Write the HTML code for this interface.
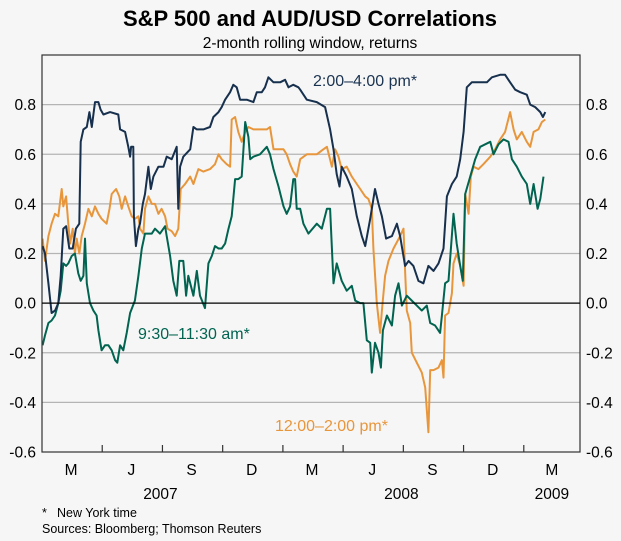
<!DOCTYPE html>
<html><head><meta charset="utf-8">
<style>
html,body{margin:0;padding:0;background:#f6f6f6;}
svg{display:block;font-family:"Liberation Sans",Arial,sans-serif;}
</style></head>
<body>
<svg id="chart" width="621" height="541" viewBox="0 0 621 541">
<rect x="0" y="0" width="621" height="541" fill="#f6f6f6"/>
<text x="310" y="26" text-anchor="middle" font-size="22" font-weight="bold" fill="#000">S&amp;P 500 and AUD/USD Correlations</text>
<text x="310" y="48" text-anchor="middle" font-size="15.5" fill="#000">2-month rolling window, returns</text>
<g id="grid"></g>
<g id="series"></g>
<rect x="42" y="55" width="538" height="397" fill="none" stroke="#333" stroke-width="1.2"/>
<g id="axes"></g>
<text x="313" y="86" font-size="16" fill="#1a3350">2:00–4:00 pm*</text>
<text x="138" y="339" font-size="16" fill="#006450">9:30–11:30 am*</text>
<text x="275" y="431" font-size="16" fill="#e8963c">12:00–2:00 pm*</text>
<text x="42" y="517" font-size="12.5" fill="#000">*</text>
<text x="57" y="517" font-size="12.5" fill="#000">New York time</text>
<text x="42" y="533" font-size="12.5" fill="#000">Sources: Bloomberg; Thomson Reuters</text>
</svg>
<script>
// x values: months since 1 Mar 2007
const navyT=[0.03,0.15,0.32,0.48,0.65,0.81,0.93,1.06,1.2,1.36,1.53,1.69,1.86,1.93,2.06,2.23,2.36,2.48,2.64,2.81,2.92,3.06,3.39,3.8,3.89,4.14,4.3,4.39,4.44,4.55,4.58,4.68,4.8,4.88,5.02,5.13,5.3,5.42,5.55,5.8,6.05,6.21,6.46,6.71,6.79,6.88,7.04,7.38,7.54,7.71,8.04,8.37,8.54,8.79,8.95,9.12,9.37,9.53,9.7,9.87,10.2,10.53,10.7,10.95,11.11,11.28,11.53,11.86,12.11,12.28,12.52,12.77,12.86,13.19,13.69,14.1,14.35,14.52,14.68,14.82,14.93,15.18,15.43,15.68,15.93,16.1,16.35,16.59,16.76,16.93,17.14,17.43,17.68,17.84,18.09,18.26,18.5,18.75,19.0,19.25,19.5,19.75,20.0,20.17,20.42,20.66,20.83,21.0,21.16,21.41,21.83,22.16,22.41,22.82,23.07,23.32,23.57,23.82,24.15,24.32,24.57,24.82,24.95,25.07];
const navyV=[0.23,0.2,0.08,-0.04,-0.03,0,0.11,0.3,0.31,0.22,0.22,0.3,0.32,0.65,0.7,0.71,0.77,0.71,0.81,0.81,0.78,0.76,0.77,0.76,0.7,0.69,0.63,0.59,0.63,0.63,0.35,0.23,0.3,0.32,0.4,0.44,0.55,0.46,0.51,0.55,0.55,0.59,0.58,0.63,0.38,0.55,0.59,0.62,0.71,0.7,0.7,0.71,0.75,0.77,0.79,0.82,0.85,0.88,0.87,0.82,0.82,0.81,0.85,0.85,0.87,0.91,0.89,0.89,0.9,0.87,0.88,0.87,0.86,0.82,0.81,0.79,0.7,0.62,0.52,0.47,0.55,0.51,0.46,0.35,0.27,0.23,0.34,0.46,0.4,0.35,0.26,0.27,0.32,0.27,0.15,0.17,0.15,0.09,0.08,0.15,0.13,0.16,0.22,0.43,0.48,0.51,0.58,0.69,0.87,0.89,0.89,0.89,0.91,0.92,0.92,0.89,0.86,0.85,0.84,0.8,0.79,0.77,0.75,0.77];
const orangeT=[0.03,0.15,0.32,0.48,0.65,0.81,0.98,1.06,1.2,1.31,1.4,1.53,1.64,1.73,1.86,1.98,2.14,2.31,2.48,2.64,2.81,2.97,3.22,3.36,3.47,3.69,3.85,3.97,4.14,4.3,4.47,4.63,4.8,4.88,5.05,5.13,5.3,5.47,5.63,5.8,5.96,6.13,6.25,6.46,6.63,6.79,6.91,7.13,7.38,7.54,7.79,8.04,8.37,8.62,8.79,8.95,9.2,9.37,9.45,9.62,9.78,9.95,10.12,10.28,10.53,10.86,11.2,11.36,11.53,11.78,12.03,12.19,12.36,12.52,12.69,12.86,13.19,13.69,14.02,14.19,14.44,14.6,14.77,14.93,15.18,15.43,15.68,15.85,16.1,16.26,16.43,16.51,16.68,16.84,16.93,17.09,17.26,17.51,17.84,18.01,18.09,18.17,18.34,18.42,18.67,18.92,19.09,19.25,19.34,19.5,19.75,19.92,20.0,20.08,20.25,20.42,20.5,20.66,20.83,21.0,21.08,21.25,21.36,21.5,21.74,21.99,22.33,22.57,22.82,23.07,23.32,23.49,23.65,23.9,24.15,24.32,24.49,24.73,24.9,25.07];
const orangeV=[0.26,0.17,0.27,0.32,0.36,0.35,0.46,0.39,0.43,0.32,0.24,0.3,0.2,0.26,0.2,0.27,0.32,0.38,0.35,0.39,0.36,0.34,0.32,0.38,0.44,0.46,0.43,0.38,0.43,0.39,0.35,0.34,0.35,0.3,0.28,0.38,0.43,0.4,0.4,0.36,0.38,0.35,0.3,0.29,0.27,0.3,0.46,0.48,0.51,0.48,0.54,0.53,0.54,0.56,0.6,0.58,0.56,0.55,0.74,0.75,0.69,0.65,0.69,0.71,0.7,0.7,0.7,0.71,0.62,0.62,0.62,0.6,0.56,0.53,0.51,0.58,0.6,0.6,0.62,0.63,0.55,0.62,0.59,0.54,0.55,0.51,0.48,0.46,0.43,0.42,0.38,0.22,0.0,-0.12,-0.03,0.11,0.17,0.22,0.27,0.3,0.13,-0.03,-0.08,-0.2,-0.24,-0.28,-0.34,-0.52,-0.27,-0.27,-0.26,-0.23,-0.3,-0.05,-0.04,0.04,0.16,0.2,0.15,0.07,0.44,0.36,0.51,0.55,0.54,0.56,0.59,0.62,0.66,0.69,0.77,0.7,0.66,0.69,0.65,0.63,0.69,0.7,0.73,0.74];
const greenT=[0.03,0.15,0.32,0.48,0.65,0.81,0.93,1.06,1.2,1.31,1.48,1.64,1.81,1.93,2.06,2.14,2.23,2.39,2.56,2.72,2.81,2.97,3.14,3.31,3.47,3.64,3.75,3.89,4.05,4.22,4.39,4.63,4.8,4.97,5.13,5.3,5.47,5.63,5.88,6.13,6.21,6.38,6.54,6.71,6.84,7.04,7.18,7.29,7.54,7.71,7.87,8.12,8.29,8.46,8.62,8.79,8.95,9.12,9.29,9.45,9.62,9.78,9.95,10.12,10.28,10.37,10.53,10.86,11.2,11.36,11.53,11.78,12.03,12.19,12.36,12.52,12.61,12.69,12.86,13.02,13.27,13.69,13.94,14.19,14.35,14.52,14.68,14.93,15.18,15.43,15.6,15.85,16.01,16.18,16.35,16.43,16.59,16.76,16.88,16.98,17.18,17.43,17.59,17.76,17.93,18.17,18.42,18.67,18.92,19.17,19.34,19.58,19.83,19.92,20.08,20.25,20.5,20.66,20.83,20.96,21.08,21.33,21.58,21.83,22.08,22.33,22.49,22.74,22.99,23.24,23.41,23.65,23.9,24.15,24.32,24.49,24.69,24.82,24.98];
const greenV=[-0.17,-0.13,-0.08,-0.07,-0.05,0,0.05,0.16,0.15,0.16,0.19,0.2,0.12,0.09,0.11,0.26,0.08,0,-0.03,-0.05,-0.11,-0.19,-0.17,-0.17,-0.19,-0.23,-0.24,-0.17,-0.19,-0.12,-0.04,0.01,0.11,0.22,0.28,0.28,0.28,0.3,0.28,0.31,0.27,0.19,0.09,0.03,0.17,0.17,0.03,0.11,0.03,0.13,0.03,-0.02,0.16,0.19,0.23,0.22,0.22,0.24,0.3,0.35,0.5,0.5,0.51,0.73,0.67,0.58,0.59,0.6,0.63,0.6,0.54,0.47,0.39,0.36,0.39,0.5,0.5,0.38,0.38,0.32,0.28,0.32,0.3,0.38,0.38,0.08,0.16,0.09,0.05,0.07,0.01,0,0,-0.15,-0.16,-0.28,-0.16,-0.2,-0.26,-0.11,-0.05,-0.09,0.03,0.08,-0.01,0.03,0.01,-0.01,-0.03,-0.01,-0.08,-0.09,-0.12,-0.05,0.08,0.09,0.36,0.24,0.15,0.09,0.44,0.51,0.58,0.63,0.64,0.65,0.6,0.64,0.66,0.65,0.58,0.55,0.51,0.48,0.4,0.48,0.38,0.42,0.51];
const yTicks=[0.8,0.6,0.4,0.2,0,-0.2,-0.4,-0.6];
const yTickLabels=["0.8","0.6","0.4","0.2","0.0","-0.2","-0.4","-0.6"];
const qTicks=[3,6,9,12,15,18,21,24];
const monthLabels=["M","J","S","D","M","J","S","D","M"];
const monthLabelPos=[1.45,4.45,7.45,10.45,13.45,16.45,19.45,22.45,25.4];
const yearLabels=["2007","2008","2009"];
const yearLabelPos=[5.9,17.9,25.4];

const L=42,R=580,T=55,B=452,yMax=1.0,yMin=-0.6,tMax=26.8;
const xs=t=>L+t*(R-L)/tMax;
const ys=v=>T+(yMax-v)*(B-T)/(yMax-yMin);
const NS="http://www.w3.org/2000/svg";
const grid=document.getElementById('grid'),axes=document.getElementById('axes'),series=document.getElementById('series');
function mk(tag,attrs,parent){const e=document.createElementNS(NS,tag);for(const k in attrs)e.setAttribute(k,attrs[k]);parent.appendChild(e);return e;}
yTicks.forEach((v,i)=>{
  const y=ys(v);
  if(v!==0&&v!==yMin){const g=mk('line',{x1:L,x2:R,y1:y,y2:y,stroke:'#b4b4b4','stroke-width':1.2},grid);
  
  }
  const a=mk('text',{x:36,y:y+5.5,'text-anchor':'end','font-size':15.5,fill:'#000'},axes);a.textContent=yTickLabels[i];
  
  
  const b=mk('text',{x:586,y:y+5.5,'text-anchor':'start','font-size':15.5,fill:'#000'},axes);b.textContent=yTickLabels[i];
  
  
});
const z=mk('line',{x1:L,x2:R,y1:ys(0),y2:ys(0),stroke:'#000','stroke-width':1.2},axes);


qTicks.forEach(t=>{const tk=mk('line',{x1:xs(t),x2:xs(t),y1:B,y2:B-7,stroke:'#333','stroke-width':1.2},axes);
  
  });
monthLabels.forEach((m,i)=>{const e=mk('text',{x:xs(monthLabelPos[i]),y:475,'text-anchor':'middle','font-size':15.5,fill:'#000'},axes);e.textContent=m;
  
  });
yearLabels.forEach((m,i)=>{const e=mk('text',{x:xs(yearLabelPos[i]),y:499,'text-anchor':'middle','font-size':15.5,fill:'#000'},axes);e.textContent=m;
  
  });
function line(T_,V,color,name){
  const d=T_.map((t,i)=>(i?'L':'M')+xs(t).toFixed(1)+' '+ys(V[i]).toFixed(1)).join(' ');
  const p=mk('path',{d:d,fill:'none',stroke:color,'stroke-width':2,'stroke-linejoin':'round'},series);
  
  
}
line(orangeT,orangeV,'#e8963c','series-12-2pm');
line(greenT,greenV,'#006450','series-930-1130am');
line(navyT,navyV,'#17304d','series-2-4pm');
</script>
</body></html>
